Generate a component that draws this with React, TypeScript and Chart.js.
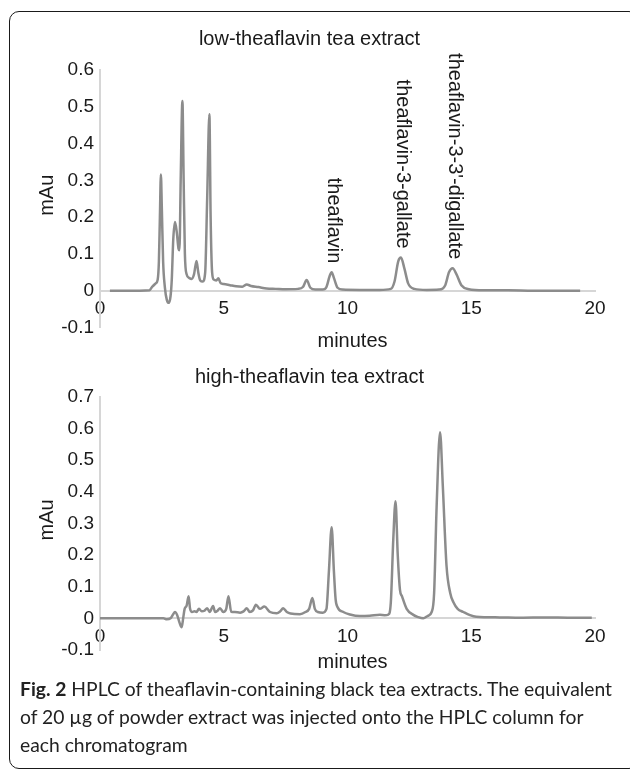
import React, { useEffect, useRef } from "react";
import { Chart, registerables } from "chart.js";

Chart.register(...registerables);

// ---------- data ----------
const xTickValues = [0, 5, 10, 15, 20];

const lowTimes = [
  0.4, 1.0, 1.6, 2.0, 2.1, 2.25, 2.33, 2.38, 2.42, 2.46, 2.5, 2.55, 2.62, 2.7, 2.78, 2.85, 2.9, 2.96, 3.03, 3.1,
  3.17, 3.21, 3.26, 3.33, 3.38, 3.43, 3.5, 3.6, 3.7, 3.8, 3.9, 3.97, 4.05, 4.15, 4.25, 4.33, 4.42, 4.47, 4.53, 4.6,
  4.7, 4.78, 4.88, 5.0, 5.25, 5.5, 5.75, 5.93, 6.1, 6.4, 6.73, 7.1, 7.5, 8.0, 8.2, 8.35, 8.5, 8.7, 9.0, 9.15,
  9.28, 9.36, 9.45, 9.6, 9.8, 10.5, 11.3, 11.75, 11.9, 12.05, 12.16, 12.3, 12.45, 12.7, 13.2, 13.7, 13.95, 14.1, 14.25, 14.4,
  14.6, 14.9, 15.5, 16.5, 17.5, 18.5, 19.4,
];
const lowValues = [
  0, 0, 0, 0.001, 0.01, 0.02, 0.03, 0.08, 0.2, 0.316, 0.22, 0.08, 0.01, -0.025, -0.033, -0.015, 0.03, 0.14, 0.187, 0.16,
  0.115, 0.11, 0.3, 0.516, 0.3, 0.1, 0.045, 0.035, 0.032, 0.045, 0.081, 0.05, 0.028, 0.025, 0.05, 0.25, 0.48, 0.2, 0.05, 0.03,
  0.028, 0.034, 0.02, 0.018, 0.015, 0.012, 0.011, 0.017, 0.013, 0.01, 0.006, 0.005, 0.004, 0.005, 0.01, 0.029, 0.008, 0.003, 0.003, 0.01,
  0.04, 0.05, 0.035, 0.008, 0.003, 0.002, 0.002, 0.005, 0.025, 0.08, 0.09, 0.06, 0.02, 0.005, 0.002, 0.003, 0.015, 0.05, 0.061, 0.045,
  0.015, 0.004, 0.001, 0.001, 0, 0, 0,
];

const highTimes = [
  0, 1, 2, 2.56, 2.7, 2.85, 2.95, 3.03, 3.12, 3.22, 3.3, 3.36, 3.42, 3.5, 3.58, 3.64, 3.72, 3.82, 3.9, 4.0,
  4.11, 4.22, 4.33, 4.43, 4.57, 4.65, 4.75, 4.85, 4.98, 5.1, 5.19, 5.3, 5.45, 5.66, 5.8, 5.93, 6.05, 6.18, 6.3, 6.46,
  6.64, 6.87, 7.14, 7.28, 7.4, 7.55, 7.7, 8.08, 8.3, 8.45, 8.58, 8.68, 8.8, 9.0, 9.15, 9.25, 9.36, 9.45, 9.52, 9.6,
  9.83, 10.1, 10.5, 10.9, 11.31, 11.5, 11.65, 11.75, 11.85, 11.94, 12.03, 12.12, 12.2, 12.39, 12.66, 12.85, 13.06, 13.25, 13.4, 13.5,
  13.6, 13.74, 13.85, 14.0, 14.15, 14.28, 14.45, 14.68, 14.95, 15.2, 16.16, 17, 18, 19, 19.87,
];
const highValues = [
  0, 0, 0, 0, -0.003, 0.0, 0.012, 0.02, 0.01, -0.015, -0.028, 0.0, 0.03, 0.04, 0.07, 0.03, 0.02, 0.022, 0.02, 0.03,
  0.022, 0.024, 0.032, 0.02, 0.039, 0.02, 0.024, 0.032, 0.02, 0.03, 0.07, 0.021, 0.02, 0.018, 0.022, 0.032, 0.02, 0.025, 0.043, 0.03,
  0.037, 0.02, 0.016, 0.022, 0.032, 0.02, 0.015, 0.013, 0.02, 0.03, 0.064, 0.03, 0.02, 0.018, 0.03, 0.15, 0.288, 0.15, 0.06, 0.035,
  0.02, 0.012, 0.007, 0.008, 0.011, 0.01, 0.012, 0.05, 0.25, 0.37, 0.2, 0.09, 0.07, 0.03, 0.011, 0.004, 0.0, 0.008, 0.02, 0.08,
  0.35, 0.588, 0.42, 0.167, 0.08, 0.051, 0.03, 0.02, 0.01, 0.005, 0.003, 0.002, 0.003, 0.002, 0.002,
];

const peakNames = ["theaflavin", "theaflavin-3-gallate", "theaflavin-3-3'-digallate"];
const peakTimes = [9.36, 12.16, 14.25];
const peakValues = [0.05, 0.09, 0.061];

const chartTitles = ["low-theaflavin tea extract", "high-theaflavin tea extract"];
const xAxisLabel = "minutes";
const yAxisLabel = "mAu";

const captionBold = "Fig. 2";
const captionLines = [
  " HPLC of theaflavin-containing black tea extracts. The equivalent",
  "of 20 µg of powder extract was injected onto the HPLC column for",
  "each chromatogram",
];

// ---------- styling ----------
const FONT = "'Liberation Sans', Arial, Helvetica, sans-serif";
const LINE_COLOR = "#8c8c8c";
const AXIS_COLOR = "#d6d6d6";
const TEXT_COLOR = "#1a1a1a";

type Layout = {
  top: number;
  height: number;
  padTop: number;
  padBottom: number;
  titleBaseline: number;
  xLabelBaseline: number;
  yMin: number;
  yMax: number;
};

const layouts: Layout[] = [
  { top: 0, height: 355, padTop: 70, padBottom: 27.5, titleBaseline: 45, xLabelBaseline: 347, yMin: -0.1, yMax: 0.6 },
  { top: 355, height: 330, padTop: 41.7, padBottom: 35, titleBaseline: 28, xLabelBaseline: 313, yMin: -0.1, yMax: 0.7 },
];

function fmt(v: number) {
  const r = Math.round(v * 10) / 10;
  return r === 0 ? "0" : String(r);
}

function makeTextPlugin(idx: number, layout: Layout) {
  return {
    id: "texts" + idx,
    afterDraw(chart: any) {
      const { ctx, chartArea, scales } = chart;
      ctx.save();
      ctx.fillStyle = TEXT_COLOR;
      ctx.font = `20px ${FONT}`;
      // title
      ctx.textAlign = "center";
      ctx.textBaseline = "alphabetic";
      const cx = (chartArea.left + chartArea.right) / 2;
      ctx.fillText(chartTitles[idx], cx - 38, layout.titleBaseline);
      // x-axis label
      ctx.fillText(xAxisLabel, cx + 5, layout.xLabelBaseline);
      // y-axis label
      ctx.save();
      ctx.translate(47, (chartArea.top + chartArea.bottom) / 2 - 3.5);
      ctx.rotate(-Math.PI / 2);
      ctx.textBaseline = "middle";
      ctx.fillText(yAxisLabel, 0, 0);
      ctx.restore();
      // peak annotations
      if (idx === 0) {
        for (let i = 0; i < peakNames.length; i++) {
          const px = scales.x.getPixelForValue(peakTimes[i]) + 2;
          const py = scales.y.getPixelForValue(peakValues[i]) - 9;
          ctx.save();
          ctx.translate(px, py);
          ctx.rotate(Math.PI / 2);
          ctx.textAlign = "right";
          ctx.textBaseline = "middle";
          ctx.fillText(peakNames[i], 0, 0);
          ctx.restore();
        }
      }
      ctx.restore();
    },
  };
}

function ChromChart({ idx, times, values }: { idx: number; times: number[]; values: number[] }) {
  const ref = useRef<HTMLCanvasElement | null>(null);
  const layout = layouts[idx];
  useEffect(() => {
    if (!ref.current) return;
    const data = times.map((t, i) => ({ x: t, y: values[i] }));
    const tickFont = { family: FONT, size: 19 };
    const chart = new Chart(ref.current, {
      type: "line",
      data: {
        datasets: [
          {
            data,
            borderColor: LINE_COLOR,
            borderWidth: 2.5,
            pointRadius: 0,
            fill: false,
            cubicInterpolationMode: "monotone",
          } as any,
        ],
      },
      options: {
        responsive: false,
        animation: false,
        devicePixelRatio: 1,
        events: [],
        layout: { padding: { left: 40, right: 35, top: layout.padTop, bottom: layout.padBottom } },
        plugins: { legend: { display: false }, tooltip: { enabled: false }, title: { display: false } },
        scales: {
          x: {
            type: "linear",
            axis: "x",
            position: { y: 0 } as any,
            min: 0,
            max: 20,
            afterBuildTicks: (s: any) => {
              s.ticks = xTickValues.map((v) => ({ value: v }));
            },
            ticks: { color: TEXT_COLOR, font: tickFont, padding: 7, maxRotation: 0, callback: (v: any) => String(v) },
            grid: { display: false, drawTicks: false },
            border: { display: true, color: AXIS_COLOR, width: 2 },
          },
          y: {
            type: "linear",
            min: layout.yMin,
            max: layout.yMax,
            ticks: { stepSize: 0.1, color: TEXT_COLOR, font: tickFont, padding: 6, callback: (v: any) => fmt(Number(v)) },
            grid: { display: false, drawTicks: false },
            border: { display: true, color: AXIS_COLOR, width: 2 },
            afterFit: (s: any) => {
              s.width = 60;
            },
          },
        } as any,
      },
      plugins: [makeTextPlugin(idx, layout)],
    });
    return () => chart.destroy();
  }, []);
  return (
    <canvas
      ref={ref}
      width={630}
      height={layout.height}
      style={{ position: "absolute", left: 0, top: layout.top, width: 630, height: layout.height }}
    />
  );
}

export default function App() {
  return (
    <div style={{ position: "absolute", left: 0, top: 0, width: 630, height: 774, overflow: "hidden", background: "#fff" }}>
      <div
        style={{
          position: "absolute",
          left: 9,
          top: 11,
          width: 630,
          height: 758,
          border: "1.5px solid #1a1a1a",
          borderRadius: 10,
          boxSizing: "border-box",
        }}
      />
      <ChromChart idx={0} times={lowTimes} values={lowValues} />
      <ChromChart idx={1} times={highTimes} values={highValues} />
      <div
        style={{
          position: "absolute",
          left: 20,
          top: 675,
          fontFamily: "Lato, 'Open Sans', sans-serif",
          fontSize: 19.3,
          lineHeight: "28px",
          color: "#222",
          whiteSpace: "nowrap",
        }}
      >
        <b>{captionBold}</b>
        {captionLines[0]}
        <br />
        {captionLines[1]}
        <br />
        {captionLines[2]}
      </div>
    </div>
  );
}
